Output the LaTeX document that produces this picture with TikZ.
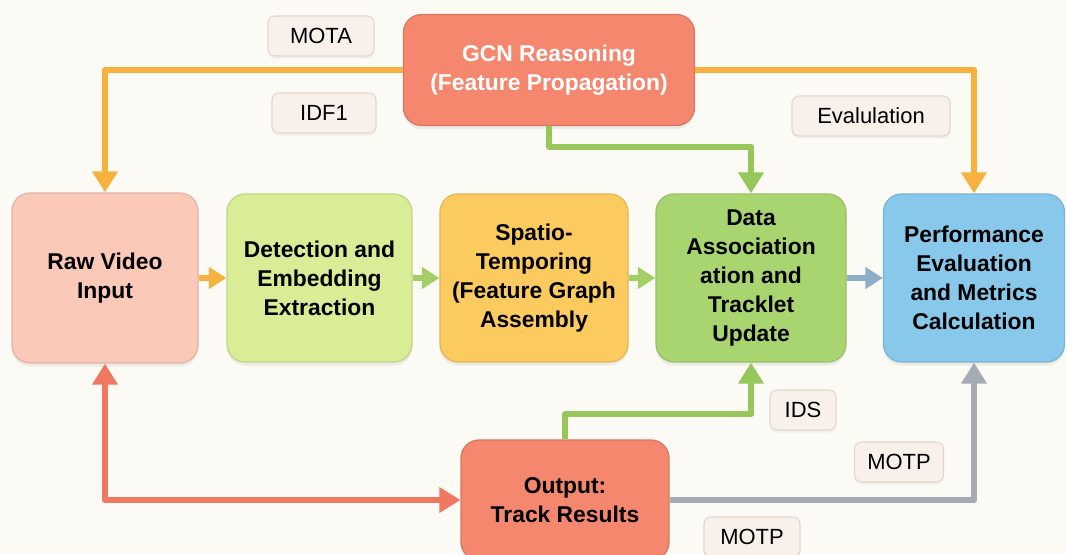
\documentclass[tikz,border=0pt]{standalone}
\usepackage{fontspec}
\setmainfont{Liberation Sans}
\usetikzlibrary{arrows.meta, backgrounds, shadows}
\definecolor{background}{HTML}{FBFAF5}
\definecolor{gcnfill}{HTML}{F4876E}
\definecolor{rawfill}{HTML}{FAC9B8}
\definecolor{detfill}{HTML}{D9EC96}
\definecolor{spafill}{HTML}{FCCB5F}
\definecolor{datfill}{HTML}{A9D571}
\definecolor{perffill}{HTML}{88C8EA}
\definecolor{tagfill}{HTML}{F8F1EA}
\definecolor{tagline}{HTML}{E2D6CA}
\definecolor{orangeline}{HTML}{F7B13E}
\definecolor{greenline}{HTML}{97C65A}
\definecolor{redline}{HTML}{F07760}
\definecolor{grayline}{HTML}{A5ABB3}
\definecolor{blueline}{HTML}{8DAFC9}
\tikzset{
    stage/.style={rounded corners=0.36cm, align=center, line width=0.7pt,
        font=\bfseries\fontsize{13}{16.5}\selectfont, inner sep=0pt,
        drop shadow={opacity=0.12, shadow xshift=0pt, shadow yshift=-2pt}},
    metric/.style={rounded corners=0.14cm, fill=tagfill, draw=tagline, line width=0.6pt,
        font=\fontsize{12.5}{15}\selectfont, inner sep=0pt, minimum height=0.8cm,
        drop shadow={opacity=0.08, shadow xshift=0pt, shadow yshift=-1.5pt}},
    flow/.style={line width=3.4pt, line join=round, -{Triangle[length=12pt,width=14pt]}},
    hop/.style={line width=3pt, -{Triangle[length=10pt,width=12pt]}}
}
\newcommand{\metrictag}[4]{\node[metric, minimum width=#3] (#1) at #2 {#4};}

\begin{document}
\begin{tikzpicture}
    \useasboundingbox (0,0) rectangle (21.34,-11.08);
    \begin{scope}[on background layer]
        \fill[background] (0,0) rectangle (21.34,-11.08);
    \end{scope}

    \node[stage, fill=gcnfill, draw=gcnfill!88!black, text=white,
        minimum width=5.82cm, minimum height=2.22cm] (gcn) at (10.98,-1.40)
        {GCN Reasoning\\(Feature Propagation)};

    \node[stage, fill=rawfill, draw=rawfill!90!black,
        minimum width=3.72cm, minimum height=3.4cm] (raw) at (2.10,-5.56)
        {Raw Video\\Input};
    \node[stage, fill=detfill, draw=detfill!90!black,
        minimum width=3.70cm, minimum height=3.36cm] (det) at (6.39,-5.56)
        {Detection and\\Embedding\\Extraction};
    \node[stage, fill=spafill, draw=spafill!90!black,
        minimum width=3.76cm, minimum height=3.36cm] (spa) at (10.68,-5.56)
        {Spatio-\\Temporing\\(Feature Graph\\Assembly};
    \node[stage, fill=datfill, draw=datfill!90!black,
        minimum width=3.80cm, minimum height=3.36cm] (dat) at (15.02,-5.56)
        {Data\\Association\\ation and\\Tracklet\\Update};
    \node[stage, fill=perffill, draw=perffill!90!black,
        minimum width=3.62cm, minimum height=3.36cm] (perf) at (19.48,-5.56)
        {Performance\\Evaluation\\and Metrics\\Calculation};

    \node[stage, fill=gcnfill, draw=gcnfill!88!black,
        minimum width=4.16cm, minimum height=2.4cm] (out) at (11.30,-10.0)
        {Output:\\Track Results};

    \metrictag{mota}{(6.42,-0.72)}{2.12cm}{MOTA}
    \metrictag{idf}{(6.48,-2.26)}{2.08cm}{IDF1}
    \metrictag{evalu}{(17.42,-2.32)}{3.16cm}{Evalulation}
    \metrictag{ids}{(16.06,-8.20)}{1.32cm}{IDS}
    \metrictag{motpa}{(17.98,-9.24)}{1.78cm}{MOTP}
    \metrictag{motpb}{(15.04,-10.74)}{1.92cm}{MOTP}

    % feedback from the GCN block
    \draw[flow, orangeline] (gcn.west) -| (raw.north);
    \draw[flow, orangeline] (gcn.east) -| (perf.north);
    \draw[flow, greenline] (gcn.south) -- ++(0,-0.41) -| (dat.north);

    % main pipeline
    \draw[hop, orangeline] (raw) -- (det);
    \draw[hop, greenline!80!detfill] (det) -- (spa);
    \draw[hop, greenline!80!detfill] (spa) -- (dat);
    \draw[hop, blueline] (dat) -- (perf);

    % results
    \draw[flow, redline, {Triangle[length=12pt,width=14pt]}-{Triangle[length=12pt,width=14pt]}]
        (raw.south) |- (out.west);
    \draw[flow, greenline] (out.north) -- ++(0,0.5) -| (dat.south);
    \draw[flow, grayline] (out.east) -| (perf.south);
\end{tikzpicture}
\end{document}
